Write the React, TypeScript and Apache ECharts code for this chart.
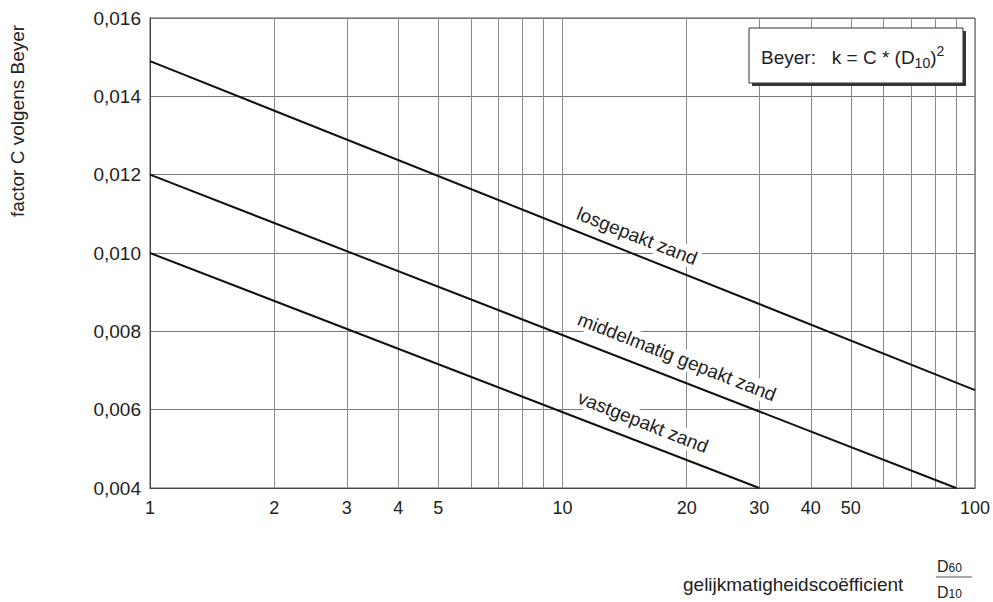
import React, { useEffect, useRef } from "react";
import * as echarts from "echarts";

// Data
const xLabelValues = [1, 2, 3, 4, 5, 10, 20, 30, 40, 50, 100];
const xGridValues = [1, 2, 3, 4, 5, 6, 7, 8, 9, 10, 20, 30, 40, 50, 60, 70, 80, 90, 100];
const yMin = 0.004;
const yMax = 0.016;
const yStep = 0.002;

const seriesNames = ["losgepakt zand", "middelmatig gepakt zand", "vastgepakt zand"];
const losgepaktX = [1, 100];
const losgepaktY = [0.0149, 0.0065];
const middelmatigX = [1, 90];
const middelmatigY = [0.012, 0.004];
const vastgepaktX = [1, 30];
const vastgepaktY = [0.01, 0.004];

const pairs = (xs: number[], ys: number[]) => xs.map((x, i) => [x, ys[i]]);

const FONT = "'Liberation Sans', Arial, sans-serif";
const TXT = "#222";

export default function App() {
  const ref = useRef<HTMLDivElement>(null);
  useEffect(() => {
    if (!ref.current) return;
    const chart = echarts.init(ref.current, undefined, { renderer: "svg" });
    const rot = -0.375;
    const labelStyle = {
      fill: TXT,
      fontSize: 19,
      fontFamily: FONT,
      align: "center",
      verticalAlign: "middle",
      backgroundColor: "#fff",
      padding: [1, 3],
    };
    const fracRich = {
      d: { fontSize: 16, fontFamily: FONT, fill: TXT, lineHeight: 18, verticalAlign: "bottom" },
      n: { fontSize: 12, fontFamily: FONT, fill: TXT, lineHeight: 14, verticalAlign: "bottom" },
    };
    chart.setOption({
      animation: false,
      backgroundColor: "#fff",
      textStyle: { fontFamily: FONT },
      grid: {
        left: 150,
        top: 18,
        right: 18,
        bottom: 114,
        show: true,
        borderColor: "#555",
        borderWidth: 1,
        backgroundColor: "transparent",
      },
      xAxis: {
        type: "log",
        logBase: 10,
        min: 1,
        max: 100,
        axisLine: { show: true, lineStyle: { color: "#444", width: 1 } },
        axisTick: { show: false, customValues: xGridValues },
        axisLabel: {
          customValues: xLabelValues,
          color: TXT,
          fontSize: 18,
          fontFamily: FONT,
          margin: 11,
          formatter: (v: number) => String(Math.round(v)),
        },
        splitLine: { show: true, lineStyle: { color: "#8a8a8a", width: 1 } },
        minorTick: { show: false },
        minorSplitLine: { show: false },
      },
      yAxis: {
        type: "value",
        min: yMin,
        max: yMax,
        interval: yStep,
        axisLine: { show: true, lineStyle: { color: "#444", width: 1 } },
        axisTick: { show: false },
        axisLabel: {
          color: TXT,
          fontSize: 19,
          fontFamily: FONT,
          margin: 9,
          formatter: (v: number) => v.toFixed(3).replace(".", ","),
        },
        splitLine: { show: true, lineStyle: { color: "#777", width: 1 } },
      },
      series: [
        { name: seriesNames[0], data: pairs(losgepaktX, losgepaktY) },
        { name: seriesNames[1], data: pairs(middelmatigX, middelmatigY) },
        { name: seriesNames[2], data: pairs(vastgepaktX, vastgepaktY) },
      ].map((s) => ({
        ...s,
        type: "line",
        symbol: "none",
        lineStyle: { color: "#111", width: 2 },
        z: 5,
      })),
      graphic: [
        {
          type: "text",
          x: 637,
          y: 236,
          rotation: rot,
          z: 10,
          style: { ...labelStyle, text: seriesNames[0] },
        },
        {
          type: "text",
          x: 677,
          y: 357,
          rotation: rot,
          z: 10,
          style: { ...labelStyle, text: seriesNames[1] },
        },
        {
          type: "text",
          x: 643,
          y: 422,
          rotation: rot,
          z: 10,
          style: { ...labelStyle, text: seriesNames[2] },
        },
        // Beyer formula box
        {
          type: "rect",
          z: 20,
          shape: { x: 752, y: 31, width: 214, height: 55 },
          style: { fill: "#333" },
        },
        {
          type: "rect",
          z: 21,
          shape: { x: 749, y: 28, width: 214, height: 55 },
          style: { fill: "#fff", stroke: "#333", lineWidth: 1 },
        },
        {
          type: "text",
          z: 22,
          x: 761,
          y: 57,
          style: {
            text: "{a|Beyer:   k = C * (D}{s|10}{a|)}{p|2}",
            verticalAlign: "middle",
            fill: TXT,
            fontFamily: FONT,
            rich: {
              a: { fontSize: 19, fontFamily: FONT, fill: TXT, lineHeight: 26, verticalAlign: "middle" },
              s: { fontSize: 14, fontFamily: FONT, fill: TXT, lineHeight: 20, verticalAlign: "bottom" },
              p: { fontSize: 14, fontFamily: FONT, fill: TXT, lineHeight: 14, verticalAlign: "top" },
            },
          },
        },
        // Y axis name
        {
          type: "text",
          x: 17,
          y: 121,
          rotation: Math.PI / 2,
          style: {
            text: "factor C volgens Beyer",
            fill: TXT,
            fontSize: 19,
            fontFamily: FONT,
            align: "center",
            verticalAlign: "middle",
          },
        },
        // X axis name
        {
          type: "text",
          x: 683,
          y: 584,
          style: {
            text: "gelijkmatigheidscoëfficient",
            fill: TXT,
            fontSize: 19,
            fontFamily: FONT,
            align: "left",
            verticalAlign: "middle",
          },
        },
        {
          type: "text",
          x: 937,
          y: 565,
          style: { text: "{d|D}{n|60}", verticalAlign: "middle", rich: fracRich },
        },
        {
          type: "line",
          shape: { x1: 936, y1: 577, x2: 972, y2: 577 },
          style: { stroke: "#555", lineWidth: 1 },
        },
        {
          type: "text",
          x: 937,
          y: 591,
          style: { text: "{d|D}{n|10}", verticalAlign: "middle", rich: fracRich },
        },
      ],
    });
    return () => chart.dispose();
  }, []);
  return (
    <div
      ref={ref}
      style={{ position: "fixed", left: 0, top: 0, width: 993, height: 602 }}
    />
  );
}
